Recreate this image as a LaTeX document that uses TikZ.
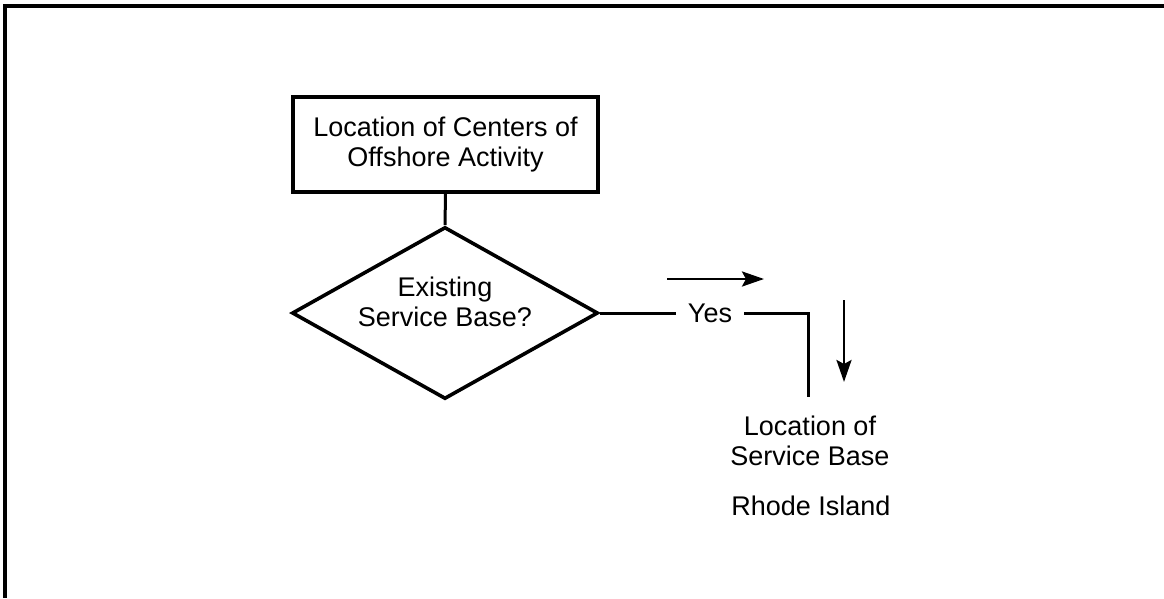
\documentclass[tikz,border=0pt]{standalone}
\usepackage{fontspec}
\setmainfont{Liberation Sans}
\usetikzlibrary{shapes.geometric,arrows.meta}
\begin{document}
\begin{tikzpicture}[x=1pt,y=-1pt,
  every node/.style={font=\fontsize{27}{30}\selectfont, align=center},
  procbox/.style={draw, line width=3.6pt, minimum width=305pt, minimum height=95pt, inner sep=0pt},
  decision/.style={draw, diamond, line width=3.6pt, minimum width=306pt, minimum height=172pt, inner sep=0pt},
  link/.style={line width=3pt},
  flowarrow/.style={line width=2.8pt, -{Stealth[length=22pt,width=15pt,inset=4pt]}},
  frameline/.style={line width=3.2pt}]
  \useasboundingbox (0,0) rectangle (1164,598);

  % page frame (top and left edges)
  \coordinate (ftl) at (5,6);
  \coordinate (ftr) at (1164,6);
  \coordinate (fbl) at (5,598);
  \draw[frameline] (ftr) -- (ftl) -- (fbl);

  % process box and decision
  \node[procbox] (box) at (445.5,144.5) {Location of Centers of\\Offshore Activity};
  \node[decision] (dia) at (445,313) {};
  \node (diatext) at (445,302) {Existing\\Service Base?};

  % Yes branch
  \node[inner xsep=12pt, inner ysep=2pt, anchor=center] (yes) at (dia.east -| 710,0) {Yes};
  \coordinate (drop) at (808,397);

  % result texts
  \node (loc) at (810,441) {Location of\\Service Base};
  \node (ri) at (811,506) {Rhode Island};

  % connectors
  \draw[link] (box.south) -- (dia.north);
  \draw[link] (dia.east) -- (yes.west);
  \draw[link] (yes.east) -| (drop);

  % direction arrows
  \coordinate (ra1) at (667,279);
  \coordinate (ra2) at (764,279);
  \draw[flowarrow] (ra1) -- (ra2);
  \coordinate (da1) at (844,300);
  \coordinate (da2) at (844,382);
  \draw[flowarrow] (da1) -- (da2);
\end{tikzpicture}
\end{document}
